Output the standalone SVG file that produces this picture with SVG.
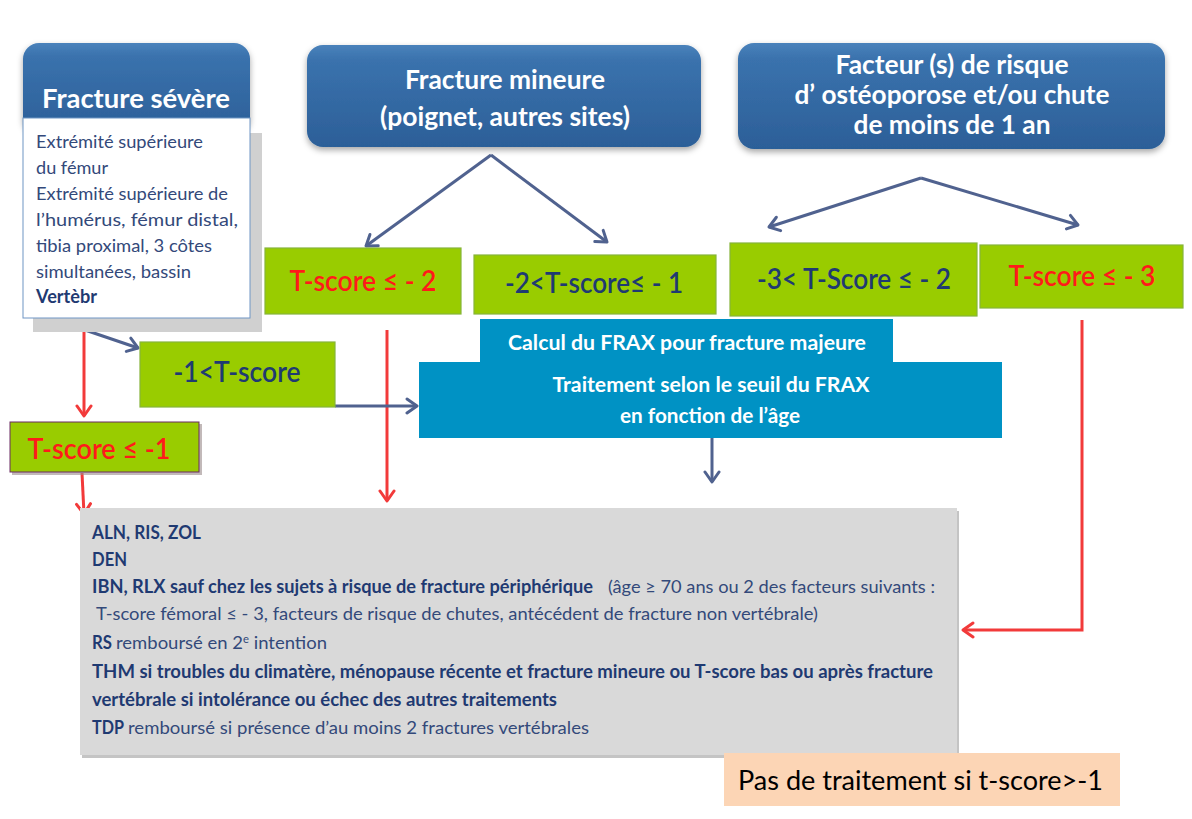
<svg xmlns="http://www.w3.org/2000/svg" width="1192" height="819" viewBox="0 0 1192 819">
<style>
.hdr{font-family:Lato,"Liberation Sans",sans-serif;font-weight:bold;fill:#ffffff;text-anchor:middle}
.body{font-family:Lato,"Liberation Sans",sans-serif;font-size:18px;fill:#33497a}
.b{font-weight:bold;fill:#1f3a72}
.gr{fill:#99cc00;stroke:#86b43a;stroke-width:1.2}
.gt{font-family:Lato,"Liberation Sans",sans-serif;font-size:29px;font-weight:600;text-anchor:middle}
.red{fill:#ff1a1a}
.dk{fill:#1f3a72}
.ft{font-family:Lato,"Liberation Sans",sans-serif;font-size:20px;font-weight:bold;fill:#ffffff;text-anchor:middle}
.sl{stroke:#50628f;stroke-width:3;fill:none}
.rl{stroke:#f23a3a;stroke-width:3;fill:none}
</style>
<defs>
<linearGradient id="blueg" x1="0" y1="0" x2="0" y2="1">
<stop offset="0" stop-color="#4a82bb"/>
<stop offset="0.15" stop-color="#3a72ad"/>
<stop offset="1" stop-color="#2c5f98"/>
</linearGradient>
<filter id="sh" x="-10%" y="-10%" width="120%" height="130%">
<feDropShadow dx="0" dy="3" stdDeviation="3" flood-color="#000" flood-opacity="0.35"/>
</filter>
<marker id="as" viewBox="0 0 14 18" refX="12" refY="9" markerWidth="14" markerHeight="18" markerUnits="userSpaceOnUse" orient="auto">
<path d="M2,2 L12,9 L2,16" fill="none" stroke="#50628f" stroke-width="3" stroke-linecap="round" stroke-linejoin="round"/>
</marker>
<marker id="ar" viewBox="0 0 14 18" refX="12" refY="9" markerWidth="14" markerHeight="18" markerUnits="userSpaceOnUse" orient="auto">
<path d="M2,2 L12,9 L2,16" fill="none" stroke="#f23a3a" stroke-width="3" stroke-linecap="round" stroke-linejoin="round"/>
</marker>
</defs>
<rect width="1192" height="819" fill="#ffffff"/>

<g id="connectors">
<path class="sl" d="M491,155 L366,246" marker-end="url(#as)"/>
<path class="sl" d="M491,155 L607,242" marker-end="url(#as)"/>
<path class="sl" d="M921,178 L769,227" marker-end="url(#as)"/>
<path class="sl" d="M921,178 L1078,225" marker-end="url(#as)"/>
<path class="sl" d="M85,330 L138,348" marker-end="url(#as)"/>
<path class="rl" d="M84,330 L84,416" marker-end="url(#ar)"/>
<path class="rl" d="M82,473 L84,514" marker-end="url(#ar)"/>
<path class="rl" d="M387,330 L387,501" marker-end="url(#ar)"/>
<path class="sl" d="M335,406 L417,406" marker-end="url(#as)"/>
<path class="sl" d="M712,438 L712,482" marker-end="url(#as)"/>
<path class="rl" d="M1082,320 L1082,630 L963,630" marker-end="url(#ar)"/>
</g>

<g id="fracture-severe">
<rect x="33" y="133" width="229" height="199" fill="#d0d0d0"/>
<rect x="23" y="43" width="227" height="90" rx="16" fill="url(#blueg)" filter="url(#sh)"/>
<text class="hdr" x="136" y="108" font-size="27" textLength="188" lengthAdjust="spacingAndGlyphs">Fracture sévère</text>
<rect x="23" y="118" width="227" height="200" fill="#ffffff" stroke="#6f95c4" stroke-width="1"/>
<text class="body" x="36" y="148" textLength="167" lengthAdjust="spacingAndGlyphs">Extrémité supérieure</text>
<text class="body" x="36" y="174" textLength="72" lengthAdjust="spacingAndGlyphs">du fémur</text>
<text class="body" x="36" y="200" textLength="192" lengthAdjust="spacingAndGlyphs">Extrémité supérieure de</text>
<text class="body" x="36" y="226" textLength="202" lengthAdjust="spacingAndGlyphs">l’humérus, fémur distal,</text>
<text class="body" x="36" y="252" textLength="176" lengthAdjust="spacingAndGlyphs">tibia proximal, 3 côtes</text>
<text class="body" x="36" y="278" textLength="155" lengthAdjust="spacingAndGlyphs">simultanées, bassin</text>
<text class="body b" x="36" y="303" textLength="61" lengthAdjust="spacingAndGlyphs">Vertèbr</text>
</g>

<g id="fracture-mineure">
<rect x="307" y="45" width="394" height="102" rx="16" fill="url(#blueg)" filter="url(#sh)"/>
<text class="hdr" x="505" y="89" font-size="26" textLength="200" lengthAdjust="spacingAndGlyphs">Fracture mineure</text>
<text class="hdr" x="505" y="126" font-size="26" textLength="250" lengthAdjust="spacingAndGlyphs">(poignet, autres sites)</text>
</g>

<g id="facteur-risque">
<rect x="738" y="43" width="427" height="106" rx="16" fill="url(#blueg)" filter="url(#sh)"/>
<text class="hdr" x="952" y="74" font-size="26" textLength="233" lengthAdjust="spacingAndGlyphs">Facteur (s) de risque</text>
<text class="hdr" x="952" y="104" font-size="26" textLength="315" lengthAdjust="spacingAndGlyphs">d’ ostéoporose et/ou chute</text>
<text class="hdr" x="952" y="134" font-size="26" textLength="197" lengthAdjust="spacingAndGlyphs">de moins de 1 an</text>
</g>

<g id="tscore-le-2">
<rect class="gr" x="265" y="248" width="196" height="66"/>
<text class="gt red" x="363" y="291" textLength="147" lengthAdjust="spacingAndGlyphs">T-score ≤ - 2</text>
</g>

<g id="tscore-m2-m1">
<rect class="gr" x="474" y="255" width="242" height="59"/>
<text class="gt dk" x="594" y="293" textLength="178" lengthAdjust="spacingAndGlyphs">-2&lt;T-score≤ - 1</text>
</g>

<g id="tscore-m3-m2">
<rect class="gr" x="730" y="243" width="247" height="73"/>
<text class="gt dk" x="854" y="289" textLength="194" lengthAdjust="spacingAndGlyphs">-3&lt; T-Score ≤ - 2</text>
</g>

<g id="tscore-le-3">
<rect class="gr" x="980" y="245" width="203" height="63"/>
<text class="gt red" x="1082" y="286" textLength="147" lengthAdjust="spacingAndGlyphs">T-score ≤ - 3</text>
</g>

<g id="tscore-m1">
<rect class="gr" x="140" y="342" width="195" height="65"/>
<text class="gt dk" x="237" y="382" textLength="127" lengthAdjust="spacingAndGlyphs">-1&lt;T-score</text>
</g>

<g id="tscore-le-m1">
<rect x="12" y="424" width="190" height="51" fill="#9a8a8a" opacity="0.6"/>
<rect x="10" y="422" width="189" height="50" fill="#99cc00" stroke="#6a2a62" stroke-width="1"/>
<text class="gt red" x="99" y="459" font-weight="bold" textLength="143" lengthAdjust="spacingAndGlyphs">T-score ≤ -1</text>
</g>

<g id="frax">
<polygon points="480,319 893,319 893,362 1002,362 1002,438 419,438 419,362 480,362" fill="#0092c4"/>
<text class="ft" x="687" y="350" textLength="358" lengthAdjust="spacingAndGlyphs">Calcul du FRAX pour fracture majeure</text>
<text class="ft" x="711" y="392" textLength="317" lengthAdjust="spacingAndGlyphs">Traitement selon le seuil du FRAX</text>
<text class="ft" x="710" y="423" textLength="180" lengthAdjust="spacingAndGlyphs">en fonction de l’âge</text>
</g>

<g id="traitements">
<rect x="82" y="511" width="877" height="247" fill="#c4c4c4"/>
<rect x="80" y="508" width="877" height="247" fill="#d9d9d9"/>
<text class="body b" x="92" y="539" textLength="109" lengthAdjust="spacingAndGlyphs">ALN, RIS, ZOL</text>
<text class="body b" x="92" y="566" textLength="35" lengthAdjust="spacingAndGlyphs">DEN</text>
<text class="body b" x="92" y="593" textLength="501" lengthAdjust="spacingAndGlyphs">IBN, RLX sauf chez les sujets à risque de fracture périphérique</text>
<text class="body" x="608" y="593" textLength="327" lengthAdjust="spacingAndGlyphs">(âge ≥ 70 ans ou 2 des facteurs suivants :</text>
<text class="body" x="96" y="620" textLength="722" lengthAdjust="spacingAndGlyphs">T-score fémoral ≤ - 3, facteurs de risque de chutes, antécédent de fracture non vertébrale)</text>
<text class="body b" x="92" y="649" textLength="20" lengthAdjust="spacingAndGlyphs">RS</text>
<text class="body" x="116" y="649" textLength="211" lengthAdjust="spacingAndGlyphs">remboursé en 2<tspan font-size="11" dy="-6">e</tspan><tspan dy="6"> intention</tspan></text>
<text class="body b" x="92" y="678" textLength="841" lengthAdjust="spacingAndGlyphs">THM si troubles du climatère, ménopause récente et fracture mineure ou T-score bas ou après fracture</text>
<text class="body b" x="92" y="706" textLength="465" lengthAdjust="spacingAndGlyphs">vertébrale si intolérance ou échec des autres traitements</text>
<text class="body b" x="92" y="734" textLength="32" lengthAdjust="spacingAndGlyphs">TDP</text>
<text class="body" x="128" y="734" textLength="461" lengthAdjust="spacingAndGlyphs">remboursé si présence d’au moins 2 fractures vertébrales</text>
</g>

<g id="pas-de-traitement">
<rect x="724" y="753" width="396" height="53" fill="#fcd5b5"/>
<text x="738" y="790" font-family="Lato,'Liberation Sans',sans-serif" font-size="26" fill="#000000" textLength="365" lengthAdjust="spacingAndGlyphs">Pas de traitement si t-score&gt;-1</text>
</g>
</svg>
